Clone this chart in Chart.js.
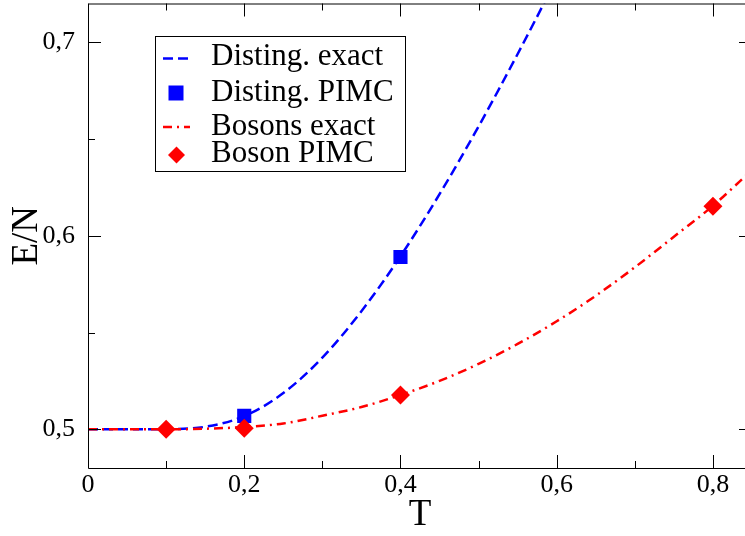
<!DOCTYPE html>
<html>
<head>
<meta charset="utf-8">
<title>E/N vs T</title>
<script src="https://cdn.jsdelivr.net/npm/chart.js@4.4.1/dist/chart.umd.min.js"></script>
<style>
  html, body { margin: 0; padding: 0; background: #fff; overflow: hidden; }
  #wrap { width: 745px; height: 536px; overflow: hidden; }
</style>
</head>
<body>
<div id="wrap"><canvas id="energyChart" width="752" height="536"></canvas></div>
<script>
// Temperatur-Stuetzstellen und Energien
const T_DIST = [0, 0.05, 0.1, 0.15, 0.2, 0.25, 0.3, 0.35, 0.4, 0.45, 0.5, 0.55, 0.6];
const E_DIST = [0.5, 0.5, 0.5001, 0.5013, 0.5068, 0.5187, 0.537, 0.561, 0.5894, 0.6215, 0.6565, 0.6939, 0.7329];

const T_DIST_PIMC = [0.2, 0.4];
const E_DIST_PIMC = [0.5069, 0.589];

const T_BOSE = [0, 0.05, 0.1, 0.15, 0.2, 0.25, 0.3, 0.35, 0.4, 0.45, 0.5, 0.55, 0.6, 0.65, 0.7, 0.75, 0.8, 0.85];
const E_BOSE = [0.5, 0.5, 0.5, 0.5003, 0.5012, 0.503, 0.507, 0.5115, 0.5177, 0.525, 0.5338, 0.5441, 0.5558, 0.569, 0.5837, 0.5995, 0.6155, 0.634];

const T_BOSE_PIMC = [0.1, 0.2, 0.4, 0.8];
const E_BOSE_PIMC = [0.5, 0.5005, 0.5177, 0.6153];

const X_TICKS = [0, 0.2, 0.4, 0.6, 0.8];
const X_MINOR = [0.1, 0.3, 0.5, 0.7];
const Y_TICKS = [0.5, 0.6, 0.7];
const Y_MINOR = [0.55, 0.65];

const LEGEND_LABELS = ['Disting. exact', 'Disting. PIMC', 'Bosons exact', 'Boson PIMC'];

const SERIF = "'Liberation Serif', 'Times New Roman', serif";
const BLUE = '#0000ff';
const RED = '#ff0000';

function toPoints(xs, ys) {
    return xs.map((x, i) => ({ x: x, y: ys[i] }));
}

function fmt(v) {
    return v === 0 ? '0' : v.toFixed(1).replace('.', ',');
}

// keine automatischen Rand-Paddings der Achsen
function noPad(s) {
    s.paddingLeft = 0;
    s.paddingRight = 0;
    s.paddingTop = 0;
    s.paddingBottom = 0;
}

// Rahmen mit nach innen zeigenden Ticks (wie xmgrace)
const framePlugin = {
    id: 'frame',
    afterDatasetsDraw(chart) {
        const { ctx, chartArea: a, scales } = chart;
        const xs = scales.x, ys = scales.y;
        ctx.save();
        ctx.strokeStyle = '#000';
        ctx.lineWidth = 1;
        ctx.beginPath();
        ctx.rect(a.left + 0.5, a.top + 0.5, a.right - a.left - 1, a.bottom - a.top);
        ctx.stroke();

        const tick = (vals, len) => {
            vals.forEach(v => {
                const px = Math.round(xs.getPixelForValue(v)) + 0.5;
                ctx.moveTo(px, a.bottom); ctx.lineTo(px, a.bottom - len);
                ctx.moveTo(px, a.top); ctx.lineTo(px, a.top + len);
            });
        };
        const ytick = (vals, len) => {
            vals.forEach(v => {
                const py = Math.round(ys.getPixelForValue(v)) + 0.5;
                ctx.moveTo(a.left, py); ctx.lineTo(a.left + len, py);
                ctx.moveTo(a.right, py); ctx.lineTo(a.right - len, py);
            });
        };
        ctx.beginPath();
        tick(X_TICKS, 13); tick(X_MINOR, 7);
        ytick(Y_TICKS, 13); ytick(Y_MINOR, 7);
        ctx.stroke();
        ctx.restore();
    }
};

// Legende als Kasten im Plotbereich
const legendBox = {
    id: 'legendBox',
    afterDraw(chart) {
        const { ctx } = chart;
        const box = { x: 155.5, y: 36.5, w: 250, h: 135 };
        const rows = [58.5, 93, 127, 155];
        const baselines = [65, 101, 135, 162];
        ctx.save();
        ctx.fillStyle = '#fff';
        ctx.fillRect(box.x, box.y, box.w, box.h);
        ctx.strokeStyle = '#000';
        ctx.lineWidth = 1;
        ctx.strokeRect(box.x, box.y, box.w, box.h);

        chart.data.datasets.forEach((ds, i) => {
            const y = rows[i];
            ctx.save();
            if (ds.showLine) {
                ctx.strokeStyle = ds.borderColor;
                ctx.lineWidth = ds.borderWidth;
                ctx.setLineDash(ds.borderDash);
                ctx.beginPath();
                ctx.moveTo(163, y);
                ctx.lineTo(190, y);
                ctx.stroke();
            } else {
                ctx.fillStyle = ds.backgroundColor;
                if (ds.pointStyle === 'rect') {
                    ctx.fillRect(168.5, y - 7.5, 15, 15);
                } else {
                    const r = 8.5;
                    ctx.beginPath();
                    ctx.moveTo(176.5, y - r);
                    ctx.lineTo(176.5 + r, y);
                    ctx.lineTo(176.5, y + r);
                    ctx.lineTo(176.5 - r, y);
                    ctx.closePath();
                    ctx.fill();
                }
            }
            ctx.restore();
            ctx.fillStyle = '#000';
            ctx.font = '31px ' + SERIF;
            ctx.textBaseline = 'alphabetic';
            ctx.textAlign = 'left';
            ctx.fillText(LEGEND_LABELS[i], 211, baselines[i]);
        });
        ctx.restore();
    }
};

const ctx = document.getElementById('energyChart').getContext('2d');

new Chart(ctx, {
    type: 'scatter',
    data: {
        datasets: [
            {
                label: LEGEND_LABELS[0],
                data: toPoints(T_DIST, E_DIST),
                showLine: true,
                borderColor: BLUE,
                backgroundColor: BLUE,
                borderWidth: 2.5,
                borderDash: [10, 5],
                pointRadius: 0,
                cubicInterpolationMode: 'monotone',
                order: 4
            },
            {
                label: LEGEND_LABELS[1],
                data: toPoints(T_DIST_PIMC, E_DIST_PIMC),
                showLine: false,
                pointStyle: 'rect',
                pointRadius: 10,
                borderWidth: 0,
                borderColor: BLUE,
                backgroundColor: BLUE,
                order: 3
            },
            {
                label: LEGEND_LABELS[2],
                data: toPoints(T_BOSE, E_BOSE),
                showLine: true,
                borderColor: RED,
                backgroundColor: RED,
                borderWidth: 2.5,
                borderDash: [9, 5, 2, 5],
                pointRadius: 0,
                cubicInterpolationMode: 'monotone',
                order: 2
            },
            {
                label: LEGEND_LABELS[3],
                data: toPoints(T_BOSE_PIMC, E_BOSE_PIMC),
                showLine: false,
                pointStyle: 'rectRot',
                pointRadius: 9.5,
                borderWidth: 0,
                borderColor: RED,
                backgroundColor: RED,
                order: 1
            }
        ]
    },
    options: {
        responsive: false,
        animation: false,
        devicePixelRatio: 1,
        layout: { autoPadding: false, padding: { top: 3.5, left: 0, right: 0, bottom: 0 } },
        plugins: {
            legend: { display: false },
            tooltip: { enabled: false }
        },
        scales: {
            x: {
                type: 'linear',
                min: 0,
                max: 0.85,
                grid: { display: false },
                border: { display: false },
                afterFit: s => { s.height = 68; noPad(s); },
                afterBuildTicks: s => { s.ticks = X_TICKS.map(v => ({ value: v })); },
                ticks: {
                    padding: -6,
                    color: '#000',
                    font: { family: 'Liberation Serif', size: 26 },
                    maxRotation: 0,
                    callback: v => fmt(v)
                },
                title: {
                    display: true,
                    text: 'T',
                    color: '#000',
                    font: { family: SERIF, size: 37, lineHeight: 1 },
                    padding: { top: 0, bottom: 2 }
                }
            },
            y: {
                type: 'linear',
                min: 0.48,
                max: 0.72,
                grid: { display: false },
                border: { display: false },
                afterFit: s => { s.width = 88; noPad(s); },
                afterBuildTicks: s => { s.ticks = Y_TICKS.map(v => ({ value: v })); },
                ticks: {
                    padding: 5,
                    color: '#000',
                    font: { family: 'Liberation Serif', size: 26 },
                    callback: v => fmt(v)
                },
                title: {
                    display: true,
                    text: 'E/N',
                    color: '#000',
                    font: { family: SERIF, size: 37, lineHeight: 1 },
                    padding: { top: 9, bottom: 0 }
                }
            }
        }
    },
    plugins: [framePlugin, legendBox]
});
</script>
</body>
</html>
